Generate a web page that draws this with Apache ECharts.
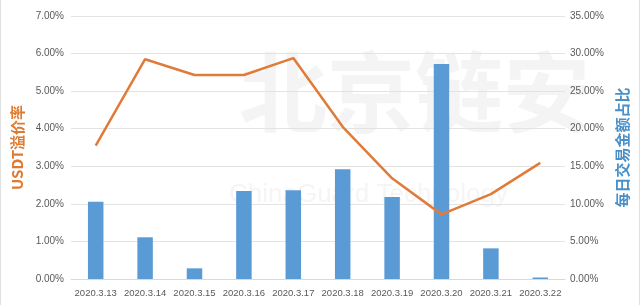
<!DOCTYPE html>
<html><head><meta charset="utf-8">
<script src="https://cdn.jsdelivr.net/npm/echarts@6/dist/echarts.min.js"></script>
<style>html,body{margin:0;padding:0;background:#fff}#c{width:640px;height:305px;box-sizing:border-box;border-left:1px solid #e0e0e0;border-right:1px solid #e0e0e0}</style>
</head><body><div id="c"></div>
<script>
const categories = ['2020.3.13','2020.3.14','2020.3.15','2020.3.16','2020.3.17','2020.3.18','2020.3.19','2020.3.20','2020.3.21','2020.3.22'];
const premiumRate = [3.55, 5.85, 5.43, 5.43, 5.88, 4.05, 2.68, 1.72, 2.26, 3.09];
const dailyShare = [10.28, 5.55, 1.42, 11.7, 11.8, 14.6, 10.9, 28.6, 4.08, 0.2];
const leftTicks = {min: 0, max: 7, interval: 1};
const rightTicks = {min: 0, max: 35, interval: 5};

const chart = echarts.init(document.getElementById('c'), null, {renderer: 'canvas'});
const lab = {color: '#595959', fontSize: 10, fontFamily: 'Liberation Sans'};
chart.setOption({
  animation: false,
  graphic: [{
    type: 'text', left: 238, top: 48, z: -1,
    style: {text: '北京链安', fontSize: 88, fontWeight: 'bold', fill: '#f4f4f4', fontFamily: 'Noto Sans CJK SC'}
  }, {
    type: 'text', left: 228, top: 182, z: -1,
    style: {text: 'ChinaGuard Technology', fontSize: 26, fill: '#f5f5f5', fontFamily: 'Liberation Sans'}
  }],
  grid: {left: 70, right: 74, top: 16, bottom: 26},
  xAxis: {
    type: 'category', data: categories,
    axisLine: {lineStyle: {color: '#d9d9d9'}},
    axisTick: {show: false},
    axisLabel: Object.assign({}, lab, {margin: 9, interval: 0, fontSize: 9.5})
  },
  yAxis: [{
    type: 'value', min: leftTicks.min, max: leftTicks.max, interval: leftTicks.interval,
    name: 'USDT溢价率', nameLocation: 'middle', nameRotate: 90, nameGap: 40,
    nameTextStyle: {color: '#DD7B33', fontSize: 15, fontWeight: 'bold', fontFamily: 'Noto Sans CJK SC'},
    axisLine: {show: false}, axisTick: {show: false},
    splitLine: {lineStyle: {color: '#e3e3e3'}},
    axisLabel: Object.assign({margin: 7, formatter: v => v.toFixed(2) + '%'}, lab)
  }, {
    type: 'value', min: rightTicks.min, max: rightTicks.max, interval: rightTicks.interval,
    name: '每日交易金额占比', nameLocation: 'middle', nameRotate: 90, nameGap: 46,
    nameTextStyle: {color: '#4A90C8', fontSize: 15, fontWeight: 'bold', fontFamily: 'Noto Sans CJK SC'},
    axisLine: {show: false}, axisTick: {show: false},
    splitLine: {show: false},
    axisLabel: Object.assign({margin: 5, formatter: v => v.toFixed(2) + '%'}, lab)
  }],
  series: [{
    type: 'bar', yAxisIndex: 1, data: dailyShare, barWidth: 15.5,
    itemStyle: {color: '#5B9BD5'}, z: 2
  }, {
    type: 'line', yAxisIndex: 0, data: premiumRate, symbol: 'none',
    lineStyle: {color: '#E07B39', width: 2.5}, z: 3
  }]
});
</script></body></html>
